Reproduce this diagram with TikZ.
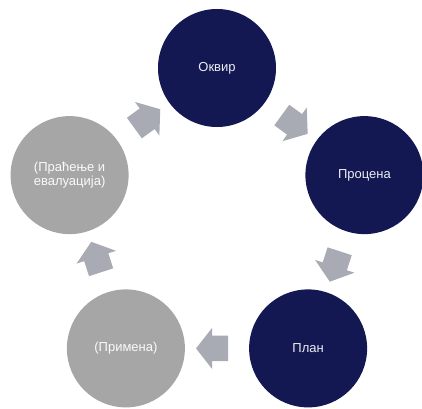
\documentclass[tikz,border=0pt]{standalone}
\usepackage{fontspec}
\setmainfont{Liberation Sans}
\usetikzlibrary{shapes.arrows,calc}

\definecolor{navy}{HTML}{141852}
\definecolor{stonegray}{HTML}{A6A6A6}
\definecolor{arrowgray}{HTML}{A8AAB4}

\begin{document}
\begin{tikzpicture}[x=1pt,y=1pt,
    phase/.style={circle,minimum size=118pt,inner sep=0pt,align=center,
      font=\fontsize{13}{14.5}\selectfont},
    done/.style={phase,fill=navy,text=white!92!navy},
    todo/.style={phase,fill=stonegray,text=white!94!stonegray},
    flow/.style={single arrow,fill=arrowgray,draw=none,
      inner xsep=0pt,inner ysep=12.5pt,minimum height=32pt,
      single arrow head extend=8pt,single arrow tip angle=104}]
  \useasboundingbox (0,0) rectangle (422,408);
  \coordinate (c) at (217,185);
  \path
  node[done] (okvir)    at ([shift={(90:155)}]c)  {Оквир}
  node[done] (procena)  at ([shift={(18:155)}]c)  {Процена}
  node[done] (plan)     at ([shift={(-54:155)}]c) {План}
  node[todo] (primena)  at ([shift={(234:155)}]c) {(Примена)}
  node[todo] (pracenje) at ([shift={(162:155)}]c) {(Праћење и\\евалуација)}
  ;
  % block arrows halfway between the phases
  \path
  node[flow,rotate=-36]  (a1) at ($(okvir)!0.5!(procena)$) {}
  node[flow,rotate=-108] (a2) at ($(procena)!0.5!(plan)$) {}
  node[flow,rotate=180]  (a3) at ($(plan)!0.5!(primena)$) {}
  node[flow,rotate=108]  (a4) at ($(primena)!0.5!(pracenje)$) {}
  node[flow,rotate=36]   (a5) at ($(pracenje)!0.5!(okvir)$) {}
  ;
\end{tikzpicture}
\end{document}
